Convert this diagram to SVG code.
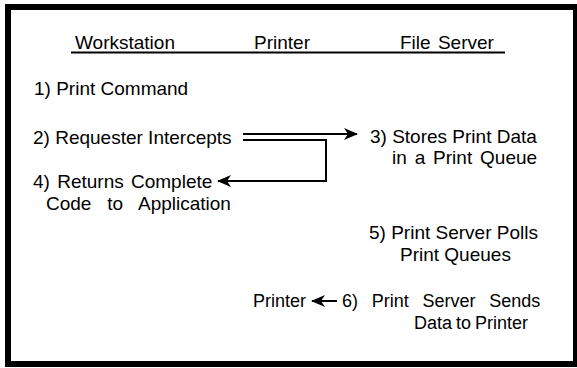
<svg xmlns="http://www.w3.org/2000/svg" width="577" height="368" viewBox="0 0 577 368">
<style>
text{font-family:"Liberation Sans",Arial,sans-serif;font-size:19px;fill:#000}
.sm{font-size:18px}
.ln{stroke:#000;stroke-width:2;fill:none}
</style>
<defs>
<marker id="ah" viewBox="0 0 14 12" refX="13" refY="6" markerWidth="14" markerHeight="12" markerUnits="userSpaceOnUse" orient="auto">
<path d="M0,0 L14,6 L0,12 L4,6 Z" fill="#000"/>
</marker>
</defs>
<rect x="0" y="0" width="577" height="368" fill="#fff"/>
<path d="M5,4 H577 V367 H5 Z M11,10 V361 H573 V10 Z" fill="#000" fill-rule="evenodd"/>
<g id="header">
<text x="75" y="49">Workstation</text>
<text x="254" y="49">Printer</text>
<text x="400" y="49" word-spacing="2">File Server</text>
<line x1="71" y1="52.5" x2="505" y2="52.5" class="ln"/>
</g>
<g id="n1"><text x="34" y="95">1) Print Command</text></g>
<g id="n2"><text x="33" y="144">2) Requester Intercepts</text></g>
<g id="n3"><text x="370" y="143">3) Stores Print Data</text>
<text x="392" y="164" word-spacing="2.6">in a Print Queue</text></g>
<g id="n4"><text x="33" y="188" word-spacing="2">4) Returns Complete</text>
<text x="46" y="210" word-spacing="10.6">Code to Application</text></g>
<g id="n5"><text x="369" y="239">5) Print Server Polls</text>
<text x="400" y="261">Print Queues</text></g>
<g id="n6"><text class="sm" x="253" y="307">Printer</text>
<text class="sm" x="342" y="307" word-spacing="8.7">6) Print Server Sends</text>
<text class="sm" x="414" y="329" word-spacing="-1">Data to Printer</text></g>
<g id="connectors">
<line x1="243" y1="134" x2="357" y2="134" class="ln" marker-end="url(#ah)"/>
<polyline points="243,140 326,140 326,181 218,181" class="ln" marker-end="url(#ah)"/>
<line x1="337" y1="301" x2="312" y2="301" class="ln" marker-end="url(#ah)"/>
</g>
</svg>
